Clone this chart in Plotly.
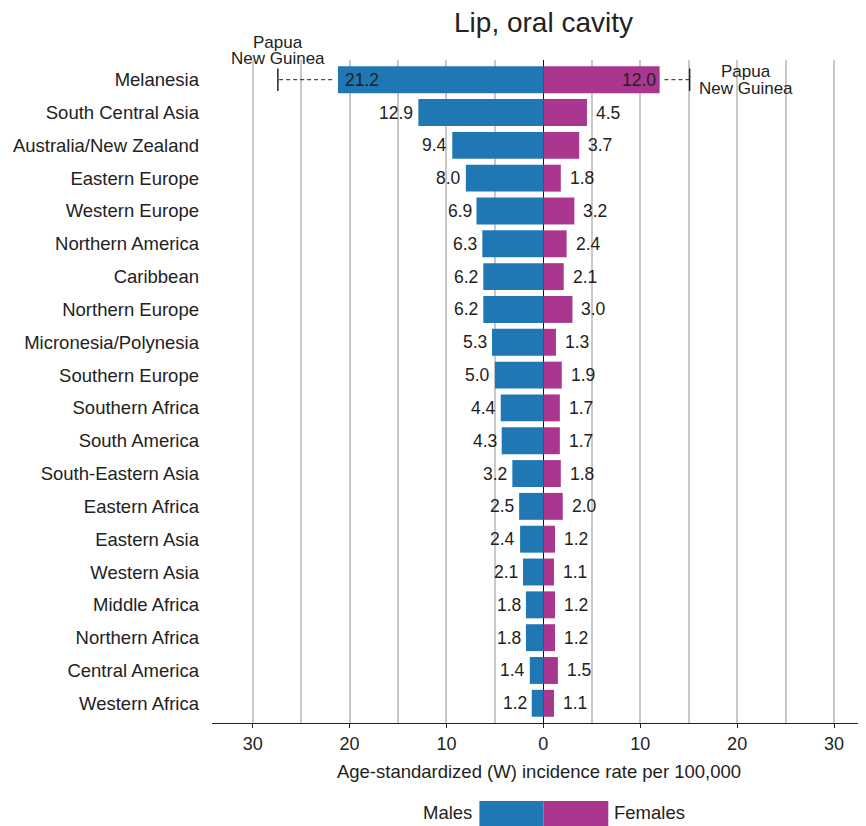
import plotly.graph_objects as go

regions = ["Melanesia", "South Central Asia", "Australia/New Zealand", "Eastern Europe",
           "Western Europe", "Northern America", "Caribbean", "Northern Europe",
           "Micronesia/Polynesia", "Southern Europe", "Southern Africa", "South America",
           "South-Eastern Asia", "Eastern Africa", "Eastern Asia", "Western Asia",
           "Middle Africa", "Northern Africa", "Central America", "Western Africa"]
males = [21.2, 12.9, 9.4, 8.0, 6.9, 6.3, 6.2, 6.2, 5.3, 5.0, 4.4, 4.3, 3.2, 2.5, 2.4, 2.1, 1.8, 1.8, 1.4, 1.2]
females = [12.0, 4.5, 3.7, 1.8, 3.2, 2.4, 2.1, 3.0, 1.3, 1.9, 1.7, 1.7, 1.8, 2.0, 1.2, 1.1, 1.2, 1.2, 1.5, 1.1]
png_male = 27.4
png_female = 15.1
png_label_lines = ["Papua", "New Guinea"]
major_ticks = [-30, -20, -10, 0, 10, 20, 30]
major_text = ["30", "20", "10", "0", "10", "20", "30"]
minor_ticks = [-25, -15, -5, 5, 15, 25]

BLUE = "#1f78b4"
MAG = "#a9368f"
TXT = "#222222"
FONT = "Liberation Sans"
VAL = 17.5

# page body has an 8px margin; compensate so the chart fills the 866x826 view
W, H = 858, 818

fig = go.Figure()

fig.add_trace(go.Bar(
    y=regions, x=[-m for m in males], orientation="h", marker_color=BLUE,
    marker_line_width=0, width=0.82, showlegend=False, hoverinfo="skip",
))
fig.add_trace(go.Bar(
    y=regions, x=females, orientation="h", marker_color=MAG,
    marker_line_width=0, width=0.82, showlegend=False, hoverinfo="skip",
))

# value labels
for r, m in zip(regions, males):
    inside = m > 15
    fig.add_annotation(x=-m, y=r, text=f"{m:.1f}", showarrow=False,
                       xanchor="left" if inside else "right", yanchor="middle",
                       xshift=5 if inside else -3,
                       font=dict(size=VAL, color=TXT, family=FONT))
for r, f in zip(regions, females):
    inside = f > 10
    fig.add_annotation(x=f, y=r, text=f"{f:.1f}", showarrow=False,
                       xanchor="right" if inside else "left", yanchor="middle",
                       xshift=-2 if inside else 7,
                       font=dict(size=VAL, color=TXT, family=FONT))

# Papua New Guinea dashed extensions
fig.add_trace(go.Scatter(
    x=[-males[0] - 0.6, -png_male], y=[regions[0], regions[0]], mode="lines",
    line=dict(color=TXT, width=1, dash="4px,3px"), showlegend=False, hoverinfo="skip"))
fig.add_trace(go.Scatter(
    x=[females[0] + 0.5, png_female], y=[regions[0], regions[0]], mode="lines",
    line=dict(color=TXT, width=1, dash="4px,3px"), showlegend=False, hoverinfo="skip"))
fig.add_trace(go.Scatter(
    x=[-png_male, png_female], y=[regions[0], regions[0]], mode="markers",
    marker=dict(symbol="line-ns", size=16, line=dict(color=TXT, width=1.5)),
    showlegend=False, hoverinfo="skip"))

for line, ys in zip(png_label_lines, [37, 21.5]):
    fig.add_annotation(x=-png_male, y=regions[0], text=line, showarrow=False,
                       xanchor="center", yanchor="middle", yshift=ys,
                       font=dict(size=17, color=TXT, family=FONT))
for line, ys in zip(png_label_lines, [8.5, -8.5]):
    fig.add_annotation(x=png_female, y=regions[0], text=line, showarrow=False,
                       xanchor="center", yanchor="middle", xshift=56, yshift=ys,
                       font=dict(size=17, color=TXT, family=FONT))

# custom legend
fig.add_shape(type="rect", xref="x", yref="paper", x0=-6.6, x1=0, y0=-0.1176, y1=-0.16,
              fillcolor=BLUE, line_width=0)
fig.add_shape(type="rect", xref="x", yref="paper", x0=0, x1=6.7, y0=-0.1176, y1=-0.16,
              fillcolor=MAG, line_width=0)
fig.add_annotation(x=-6.6, y=-0.1357, xref="x", yref="paper", text="Males", showarrow=False,
                   xanchor="right", yanchor="middle", xshift=-5,
                   font=dict(size=18.5, color=TXT, family=FONT))
fig.add_annotation(x=6.7, y=-0.1357, xref="x", yref="paper", text="Females", showarrow=False,
                   xanchor="left", yanchor="middle", xshift=4,
                   font=dict(size=18.5, color=TXT, family=FONT))

fig.update_layout(
    width=W, height=H,
    margin=dict(l=204, r=0, t=52, b=103),
    paper_bgcolor="white", plot_bgcolor="white",
    barmode="overlay",
    font=dict(family=FONT, size=18, color=TXT),
    title=dict(text="Lip, oral cavity", x=535.5 / W, xanchor="center",
               y=1 - 14 / H, yanchor="middle", font=dict(size=28, color=TXT, family=FONT)),
)
fig.update_xaxes(
    range=[-34.2, 33.3], tickvals=major_ticks, ticktext=major_text,
    showgrid=True, gridcolor="#c8c8c8", gridwidth=1.5,
    minor=dict(tickvals=minor_ticks, showgrid=True, gridcolor="#c8c8c8", gridwidth=1.5, ticks=""),
    zeroline=True, zerolinecolor="#111111", zerolinewidth=1,
    showline=True, linecolor="#222222", linewidth=1.2,
    ticks="outside", ticklen=4, tickcolor="#222222", tickwidth=1,
    tickfont=dict(size=18, color=TXT, family=FONT),
    title=dict(text="Age-standardized (W) incidence rate per 100,000",
               font=dict(size=18.5, color=TXT, family=FONT), standoff=12),
    automargin=False, fixedrange=True,
)
fig.update_yaxes(
    categoryorder="array", categoryarray=regions, autorange=False,
    range=[19.6, -0.6], showgrid=False, zeroline=False, showline=False,
    ticks="", ticklabelstandoff=12, automargin=False,
    tickfont=dict(size=18.5, color=TXT, family=FONT), fixedrange=True,
)

fig.write_html("out.html")
